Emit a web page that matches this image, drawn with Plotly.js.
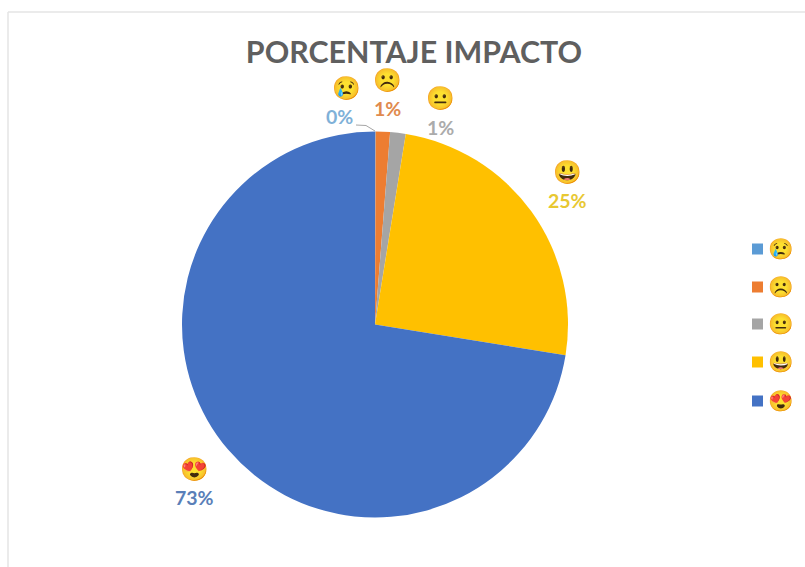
<!DOCTYPE html>
<html>
<head>
<meta charset="utf-8">
<script src="https://cdn.plot.ly/plotly-3.0.1.min.js"></script>
<style>html,body{margin:0;padding:0;background:#fff}#c{width:805px;height:567px}</style>
</head>
<body>
<div id="c"></div>
<script>
var W = 805, H = 567;
var categories = ['😢', '☹️', '😐', '😃', '😍'];
var values = [0.05, 1.2, 1.3, 25, 72.45];
var percentLabels = ['0%', '1%', '1%', '25%', '73%'];
var colors = ['#5B9BD5', '#ED7D31', '#A5A5A5', '#FFC000', '#4472C4'];
var labelTextColors = ['#7FB1D8', '#E08A4E', '#ABABAB', '#E8C832', '#5A7FB8'];
var emojiXY = [[346, 88], [387, 81], [441, 98], [567, 172], [194, 469]];
var percentXY = [[339, 116], [387, 108], [440, 127], [567, 201], [194, 497]];
var legendY = [249, 287, 324, 362, 401];
var legendSwatchX = 757.5, legendEmojiX = 781;

function px(x) { return x / W; }
function py(y) { return 1 - y / H; }

var cx = 375, cy = 324.5, r = 193;
var annotations = [], shapes = [];
var emojiFont = '"Noto Color Emoji","Noto Emoji","DejaVu Sans",sans-serif';

categories.forEach(function (c, i) {
  annotations.push({xref:'paper',yref:'paper',x:px(emojiXY[i][0]),y:py(emojiXY[i][1]),text:c,showarrow:false,
    xanchor:'center',yanchor:'middle',font:{family:emojiFont,size:23,color:'#3a3000'}});
  annotations.push({xref:'paper',yref:'paper',x:px(percentXY[i][0]),y:py(percentXY[i][1]),text:percentLabels[i],showarrow:false,
    xanchor:'center',yanchor:'middle',font:{family:'Lato, sans-serif',size:19.5,color:labelTextColors[i],weight:700}});
  annotations.push({xref:'paper',yref:'paper',x:px(legendEmojiX),y:py(legendY[i]),text:c,showarrow:false,
    xanchor:'center',yanchor:'middle',font:{family:emojiFont,size:20.5,color:'#3a3000'}});
  shapes.push({type:'rect',xref:'paper',yref:'paper',x0:px(legendSwatchX-5.5),x1:px(legendSwatchX+5.5),
    y0:py(legendY[i]+5.5),y1:py(legendY[i]-5.5),fillcolor:colors[i],line:{width:0}});
});

shapes.push({type:'line',xref:'paper',yref:'paper',x0:px(8),x1:1,y0:py(12),y1:py(12),line:{color:'#E4E4E4',width:1.5}});
shapes.push({type:'line',xref:'paper',yref:'paper',x0:px(8),x1:px(8),y0:py(12),y1:0,line:{color:'#E4E4E4',width:1.5}});
shapes.push({type:'path',xref:'paper',yref:'paper',
  path:'M '+px(356)+' '+py(125)+' L '+px(366)+' '+py(125.5)+' L '+px(375)+' '+py(131),
  line:{color:'#A6A6A6',width:1}});

Plotly.newPlot('c', [{
  type:'pie',
  labels:categories,
  values:values,
  sort:false,
  direction:'clockwise',
  rotation:0,
  textinfo:'none',
  hoverinfo:'label+percent',
  marker:{colors:colors,line:{width:0}},
  domain:{x:[px(cx-r),px(cx+r)],y:[py(cy+r),py(cy-r)]},
  automargin:false
}], {
  width:W,height:H,
  margin:{l:0,r:0,t:0,b:0},
  paper_bgcolor:'#fff',
  showlegend:false,
  title:{text:'PORCENTAJE IMPACTO',x:px(414),xanchor:'center',y:py(52.5),yanchor:'middle',
    font:{family:'Lato, sans-serif',size:30.4,color:'#5F5F5F',weight:700}},
  annotations:annotations,
  shapes:shapes
}, {displayModeBar:false});
</script>
</body>
</html>
